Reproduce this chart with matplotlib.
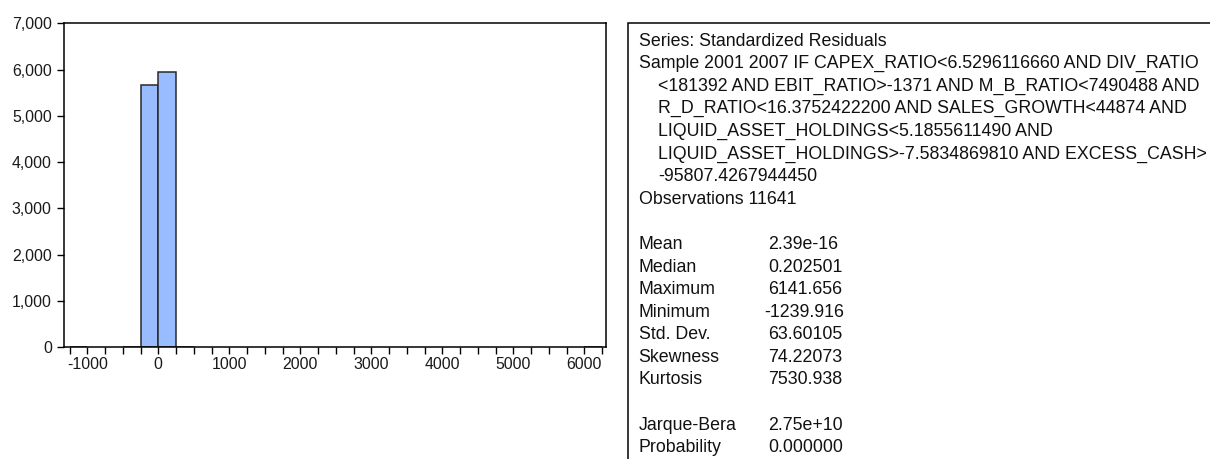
import matplotlib
matplotlib.use("Agg")
import matplotlib.pyplot as plt
from matplotlib.ticker import MultipleLocator, FuncFormatter
from matplotlib.patches import Rectangle

# Histogram of standardized residuals (bin width 250)
bin_width = 250
bin_left = [-1250, -500, -250, 0, 250, 6000]
counts = [1, 12, 5668, 5955, 4, 1]

# Descriptive statistics panel
header_lines = [
    ("Series: Standardized Residuals", 0),
    ("Sample 2001 2007 IF CAPEX_RATIO<6.5296116660 AND DIV_RATIO", 0),
    ("<181392 AND EBIT_RATIO>-1371 AND M_B_RATIO<7490488 AND", 1),
    ("R_D_RATIO<16.3752422200 AND SALES_GROWTH<44874 AND", 1),
    ("LIQUID_ASSET_HOLDINGS<5.1855611490 AND", 1),
    ("LIQUID_ASSET_HOLDINGS>-7.5834869810 AND EXCESS_CASH>", 1),
    ("-95807.4267944450", 1),
    ("Observations 11641", 0),
]
stat_names = ["Mean", "Median", "Maximum", "Minimum", "Std. Dev.",
              "Skewness", "Kurtosis", None, "Jarque-Bera", "Probability"]
stat_values = ["2.39e-16", "0.202501", "6141.656", "-1239.916", "63.60105",
               "74.22073", "7530.938", None, "2.75e+10", "0.000000"]

W, H = 1210, 459
DPI = 100
plt.rcParams["font.family"] = ["Liberation Sans", "DejaVu Sans"]

fig = plt.figure(figsize=(W / DPI, H / DPI), dpi=DPI)
fig.patch.set_facecolor("white")

def px(x0, y0, x1, y1):
    """Axes rectangle from pixel corners (top-left origin)."""
    return [x0 / W, 1 - y1 / H, (x1 - x0) / W, (y1 - y0) / H]

ax = fig.add_axes(px(64.3, 23.3, 606, 347.3))
ax.bar(bin_left, counts, width=bin_width, align="edge",
       color="#99BBFF", edgecolor="#2a2a2a", linewidth=1.1, zorder=2)

ax.set_xlim(-1324, 6306)
ax.set_ylim(0, 7000)
ax.xaxis.set_major_locator(MultipleLocator(1000))
ax.xaxis.set_minor_locator(MultipleLocator(250))
ax.yaxis.set_major_locator(MultipleLocator(1000))
ax.yaxis.set_major_formatter(FuncFormatter(lambda v, p: f"{int(v):,}"))
ax.xaxis.set_major_formatter(FuncFormatter(lambda v, p: f"{int(v)}"))
ax.tick_params(axis="both", which="both", direction="out", length=5,
               width=1, color="black", labelsize=11.4, labelcolor="#1a1a1a")
ax.tick_params(axis="x", which="both", pad=2)
ax.tick_params(axis="y", which="both", pad=4)
for s in ax.spines.values():
    s.set_linewidth(1.1)
    s.set_color("black")

# Statistics box on the right
fig.patches.append(Rectangle((628.3 / W, -0.1), 1.0, 1 - 23.3 / H + 0.1,
                             transform=fig.transFigure, fill=False,
                             edgecolor="black", linewidth=1.1))

fs = 12.8
x_text = 638.5
indent = 20
line0 = 41.0
step = 22.6

def fy(y):
    return 1 - y / H

for i, (txt, ind) in enumerate(header_lines):
    fig.text((x_text + ind * indent) / W, fy(line0 + i * step), txt,
             fontsize=fs, va="center", ha="left", color="#111111")

x_val = 768
for j, (name, val) in enumerate(zip(stat_names, stat_values)):
    if name is None:
        continue
    y = line0 + (len(header_lines) + 1 + j) * step
    fig.text(x_text / W, fy(y), name, fontsize=fs, va="center", ha="left",
             color="#111111")
    xv = x_val - 4 if val.startswith("-") else x_val
    fig.text(xv / W, fy(y), val, fontsize=fs, va="center", ha="left",
             color="#111111")

fig.savefig("out.png", dpi=DPI, facecolor="white")
